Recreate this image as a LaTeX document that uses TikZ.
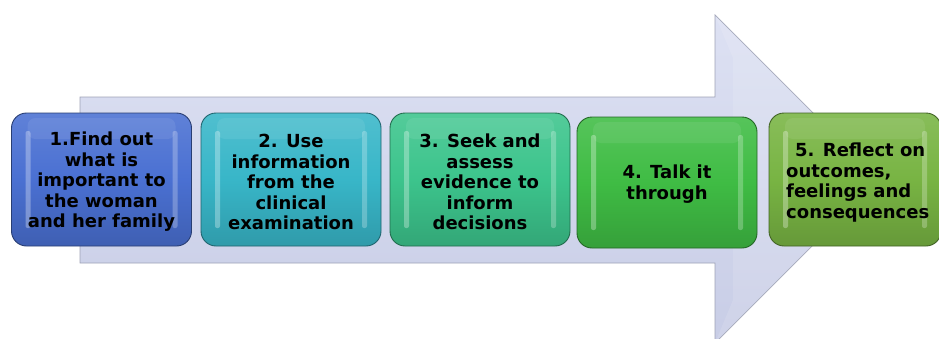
\documentclass[tikz,border=0pt]{standalone}
\usepackage{fontspec}
\setmainfont{DejaVu Sans}
\begin{document}
\definecolor{stepblue}{HTML}{4A70D2}
\definecolor{stepteal}{HTML}{38B6C8}
\definecolor{stepmint}{HTML}{3CC48C}
\definecolor{stepgreen}{HTML}{3FBC44}
\definecolor{steplime}{HTML}{78B443}
\definecolor{arrowtop}{HTML}{DDE1F3}
\definecolor{arrowbot}{HTML}{C8CDE6}
\definecolor{arrowedge}{HTML}{9EA2B6}
\begin{tikzpicture}[x=1pt,y=-1pt,
  glossy/.style={rounded corners=15pt, draw=#1!55!black, line width=0.9pt,
    top color=#1!88!white, bottom color=#1!85!black, middle color=#1,
    minimum width=180pt, minimum height=133pt, inner sep=0pt,
    path picture={
      \fill[white,opacity=0.30,rounded corners=2pt]
        ([xshift=14pt,yshift=-18pt]path picture bounding box.north west)
        rectangle ([xshift=19pt,yshift=18pt]path picture bounding box.south west);
      \fill[white,opacity=0.25,rounded corners=2pt]
        ([xshift=-19pt,yshift=-18pt]path picture bounding box.north east)
        rectangle ([xshift=-14pt,yshift=18pt]path picture bounding box.south east);
      \fill[white,opacity=0.08,rounded corners=8pt]
        ([xshift=16pt,yshift=-5pt]path picture bounding box.north west)
        rectangle ([xshift=-16pt,yshift=-26pt]path picture bounding box.north east);
    }},
  steptext/.style={font=\fontsize{18}{20.5}\selectfont\bfseries, text=black, align=center, inner sep=0pt},
  bigarrow/.style={top color=arrowtop, bottom color=arrowbot, draw=arrowedge, line width=0.7pt}]
\useasboundingbox (0,0) rectangle (939,338);

% process arrow behind the steps
\path[bigarrow] (80,97) -- (715,97) -- (715,15) -- (879,179) coordinate (tip)
  -- (715,343) -- (715,263) -- (80,263) -- cycle;
\fill[white,opacity=0.12] (715,15) -- (733,58) -- (733,300) -- (715,343) -- (879,179) -- cycle;

% the five steps
\node[glossy=stepblue] (b1) at (101.5,179.5) {};
\node[glossy=stepteal] (b2) at (291,179.5) {};
\node[glossy=stepmint] (b3) at (480,179.5) {};
\node[glossy=stepgreen, minimum height=131pt] (b4) at (667,182.5) {};
\node[glossy=steplime, minimum width=172pt] (b5) at (855,179.5) {};

\node[steptext] (t1) at ([yshift=-2.5pt]b1.center) {1.Find out\\what is\\important to\\the woman\\and her family};
\node[steptext] (t2) at ([yshift=-2.5pt]b2.center) {2. Use\\information\\from the\\clinical\\examination};
\node[steptext] (t3) at ([yshift=-2.5pt]b3.center) {3. Seek and\\assess\\evidence to\\inform\\decisions};
\node[steptext] (t4) at ([yshift=-1.5pt]b4.center) {4. Talk it\\through};
\node[steptext, align=left, anchor=west] (t5) at (786,182.5) {\hspace*{9pt}5. Reflect on\\outcomes,\\feelings and\\consequences};
\end{tikzpicture}
\end{document}
